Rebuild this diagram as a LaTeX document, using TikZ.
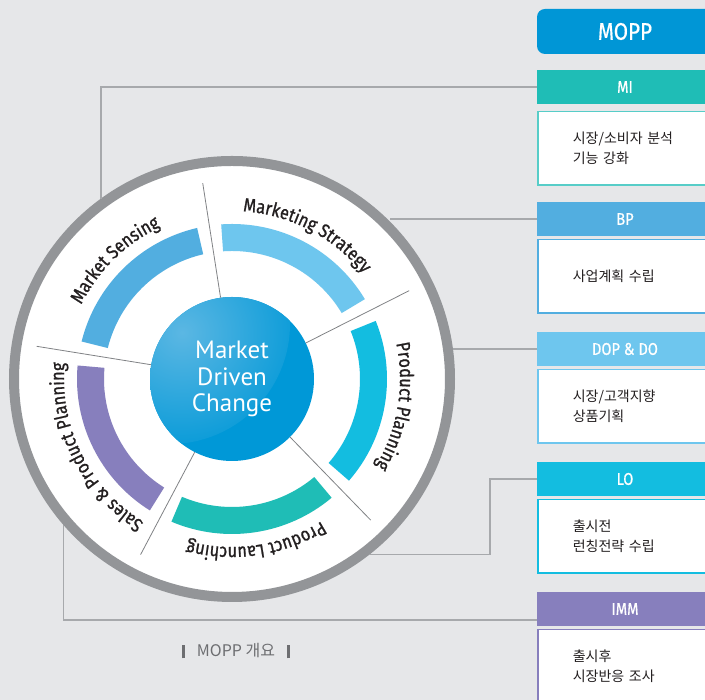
\documentclass[tikz,border=0pt]{standalone}
\usepackage{fontspec}
\setmainfont{Fira Sans}
\newfontfamily\lblfont[FakeStretch=0.86, FakeBold=1]{Fira Sans}
\newfontfamily\hdrfont[FakeStretch=0.86, FakeBold=0.6]{Fira Sans}
\newfontfamily\corefont{PT Sans}
\newfontfamily\krfont{Noto Sans CJK KR}
\def\lbl{\lblfont\fontsize{19}{19}\selectfont}
\def\hdr{\hdrfont\fontsize{17}{17}\selectfont}
\usepackage{xcolor}
\definecolor{bggray}{HTML}{E6E7E9}
\definecolor{ringgray}{HTML}{939598}
\definecolor{linkgray}{HTML}{A7A9AC}
\definecolor{divgray}{HTML}{808285}
\definecolor{textdark}{HTML}{231F20}
\definecolor{capgray}{HTML}{6D6E71}
\definecolor{coreblue}{HTML}{0098D7}
\definecolor{corelight}{HTML}{5BB7E3}
\definecolor{moppblue}{HTML}{0096D6}
\definecolor{miteal}{HTML}{1FBDB6}
\definecolor{bpblue}{HTML}{52AEE0}
\definecolor{dopblue}{HTML}{6EC6EE}
\definecolor{locyan}{HTML}{13BDE0}
\definecolor{immpurple}{HTML}{877FBD}
\usepackage{tikz}
\usetikzlibrary{positioning, calc, decorations.text}

\begin{document}
\begin{tikzpicture}[
    x=1pt, y=1pt,
    wheel/.style={circle, draw=ringgray, line width=10pt, fill=white,
      minimum size=436pt, inner sep=0pt},
    core/.style={circle, fill=coreblue, minimum size=164pt, inner sep=0pt,
      text=white, align=center,
      font=\corefont\fontsize{25}{26.5}\selectfont,
      path picture={\shade[inner color=corelight, outer color=coreblue]
        ($(path picture bounding box.center)+(-62,55)$) circle[radius=120];}},
    hdrbox/.style={minimum width=176pt, minimum height=34pt, inner sep=0pt,
      outer sep=0pt, text=white, font=\hdr},
    bodybox/.style={fill=white, line width=1.5pt, minimum height=73.5pt,
      inner xsep=35pt, text width=130pt, align=left, text=textdark,
      font=\krfont\fontsize{14}{20}\selectfont},
    link/.style={draw=linkgray, line width=1.5pt},
    divider/.style={draw=divgray, line width=0.8pt},
    arclabel/.style={decorate, decoration={text along path, text align=center,
      text={|\color{textdark}\lbl|#1}}}
  ]
  \fill[bggray] (0,0) rectangle (705,700);
  \useasboundingbox (0,0) rectangle (705,700);
  \coordinate (c) at (232,321);

  % wheel
  \node[wheel] (wheel) at (c) {};
  \fill[bpblue] ($(c)+(166:155)$) arc[start angle=166, end angle=103, radius=155]
    -- ($(c)+(103:128)$) arc[start angle=103, end angle=166, radius=128] -- cycle;
  \fill[dopblue] ($(c)+(94:155)$) arc[start angle=94, end angle=31, radius=155]
    -- ($(c)+(31:128)$) arc[start angle=31, end angle=94, radius=128] -- cycle;
  \fill[locyan] ($(c)+(22:155)$) arc[start angle=22, end angle=-41, radius=155]
    -- ($(c)+(-41:128)$) arc[start angle=-41, end angle=22, radius=128] -- cycle;
  \fill[miteal] ($(c)+(-50:155)$) arc[start angle=-50, end angle=-113, radius=155]
    -- ($(c)+(-113:128)$) arc[start angle=-113, end angle=-50, radius=128] -- cycle;
  \fill[immpurple] ($(c)+(-122:155)$) arc[start angle=-122, end angle=-185, radius=155]
    -- ($(c)+(-185:128)$) arc[start angle=-185, end angle=-122, radius=128] -- cycle;

  \path[arclabel={Market Sensing}] ($(c)+(179.5:168)$)
    arc[start angle=179.5, end angle=89.5, radius=168];
  \path[arclabel={Marketing Strategy}] ($(c)+(107.5:168)$)
    arc[start angle=107.5, end angle=17.5, radius=168];
  \path[arclabel={Product Planning}] ($(c)+(35.5:168)$)
    arc[start angle=35.5, end angle=-54.5, radius=168];
  \path[arclabel={Product Launching}] ($(c)+(-36.5:168)$)
    arc[start angle=-36.5, end angle=-126.5, radius=168];
  \path[arclabel={Sales {\&} Product Planning}] ($(c)+(-108.5:168)$)
    arc[start angle=-108.5, end angle=-198.5, radius=168];

  \node[core] (core) at (c) {Market\\Driven\\Change};
  \draw[divider] (core.98.5) -- ($(c)+(98.5:198)$);
  \draw[divider] (core.26.5) -- ($(c)+(26.5:198)$);
  \draw[divider] (core.-45.5) -- ($(c)+(-45.5:198)$);
  \draw[divider] (core.-117.5) -- ($(c)+(-117.5:198)$);
  \draw[divider] (core.170.5) -- ($(c)+(170.5:198)$);

  % right column
  \node[hdrbox, fill=moppblue, rounded corners=8pt, minimum height=45pt,
    font=\hdrfont\fontsize{24}{24}\selectfont] (mopp) at (625,668.5) {MOPP};
  \node[hdrbox, fill=miteal, below right=16pt and 0pt of mopp.south west] (mi) {MI};
  \node[bodybox, draw=miteal!75, below right=7pt and 0pt of mi.south west] (mibody)
    {시장/소비자 분석\\기능 강화};
  \node[hdrbox, fill=bpblue, below right=16pt and 0pt of mibody.south west] (bp) {BP};
  \node[bodybox, draw=bpblue, below right=3pt and 0pt of bp.south west] (bpbody)
    {사업계획 수립};
  \node[hdrbox, fill=dopblue, below right=18pt and 0pt of bpbody.south west] (dop)
    {DOP \& DO};
  \node[bodybox, draw=dopblue, below right=3pt and 0pt of dop.south west] (dopbody)
    {시장/고객지향\\상품기획};
  \node[hdrbox, fill=locyan, below right=18pt and 0pt of dopbody.south west] (lo) {LO};
  \node[bodybox, draw=locyan, below right=3pt and 0pt of lo.south west] (lobody)
    {출시전\\런칭전략 수립};
  \node[hdrbox, fill=immpurple, below right=18pt and 0pt of lobody.south west] (imm)
    {IMM};
  \node[bodybox, draw=immpurple, below right=3pt and 0pt of imm.south west] (immbody)
    {출시후\\시장반응 조사};

  % links
  \draw[link] (mi.west) -| (wheel.126);
  \draw[link] (bp.west) -- (bp.west -| wheel.45.85);
  \draw[link] (dop.west) -- (dop.west -| wheel.7.7);
  \draw[link] (lo.west) -- ++(-47,0) |- (wheel.-52.1);
  \draw[link] (wheel.221) |- ($(imm.west)+(0,-11)$);

  \node[text=capgray, font=\krfont\fontsize{16}{16}\selectfont] (caption) at (236,49)
    {\rule[-1.5pt]{2.5pt}{13pt}\hspace{12pt}MOPP 개요\hspace{12pt}\rule[-1.5pt]{2.5pt}{13pt}};
\end{tikzpicture}
\end{document}
